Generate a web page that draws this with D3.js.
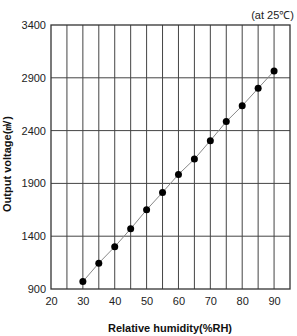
<!DOCTYPE html>
<html><head><meta charset="utf-8">
<script src="https://cdn.jsdelivr.net/npm/d3@7"></script>
<style>body{margin:0;background:#fff}</style>
</head><body>
<script>
const humidity = [30,35,40,45,50,55,60,65,70,75,80,85,90];
const voltage = [970,1145,1300,1470,1650,1815,1985,2130,2305,2485,2635,2800,2965];
const xTicks = [20,30,40,50,60,70,80,90];
const yTicks = [900,1400,1900,2400,2900,3400];
const xGrid = [25,30,35,40,45,50,55,60,65,70,75,80,85,90];

const W=297,H=336;
const m={l:51,r:7,t:25,b:47};
const svg=d3.select("body").append("svg").attr("width",W).attr("height",H);
const x=d3.scaleLinear().domain([20,95]).range([m.l,W-m.r]);
const y=d3.scaleLinear().domain([900,3400]).range([H-m.b,m.t]);
const font="Arial, 'Liberation Sans', sans-serif";

svg.append("g").selectAll("line").data(xGrid).join("line")
 .attr("x1",d=>x(d)).attr("x2",d=>x(d)).attr("y1",y(900)).attr("y2",y(3400))
 .attr("stroke","#444").attr("stroke-width",1);
svg.append("g").selectAll("line").data(yTicks.slice(1,-1)).join("line")
 .attr("x1",x(20)).attr("x2",x(95)).attr("y1",d=>y(d)).attr("y2",d=>y(d))
 .attr("stroke","#444").attr("stroke-width",1);
svg.append("rect").attr("x",x(20)).attr("y",y(3400)).attr("width",x(95)-x(20)).attr("height",y(900)-y(3400))
 .attr("fill","none").attr("stroke","#333").attr("stroke-width",1.3);

const yAxis=svg.append("g").attr("transform",`translate(${x(20)},0)`)
 .call(d3.axisLeft(y).tickValues(yTicks).tickFormat(d3.format("d")).tickSize(0).tickPadding(5));
yAxis.select(".domain").remove();
yAxis.selectAll("text").attr("font-family",font).attr("font-size",11).attr("fill","#222");

const xAxis=svg.append("g").attr("transform",`translate(0,${y(900)})`)
 .call(d3.axisBottom(x).tickValues(xTicks).tickFormat(d3.format("d")).tickSize(0).tickPadding(8));
xAxis.select(".domain").remove();
xAxis.selectAll("text").attr("font-family",font).attr("font-size",11).attr("fill","#222");

const line=d3.line().x((d,i)=>x(humidity[i])).y(d=>y(d));
svg.append("path").datum(voltage).attr("d",line).attr("fill","none").attr("stroke","#888").attr("stroke-width",1);
svg.append("g").selectAll("circle").data(voltage).join("circle")
 .attr("cx",(d,i)=>x(humidity[i])).attr("cy",d=>y(d)).attr("r",3.5).attr("fill","#000");

svg.append("text").attr("x",170).attr("y",332).attr("text-anchor","middle")
 .attr("font-family",font).attr("font-size",11).attr("font-weight","bold").attr("fill","#111")
 .text("Relative humidity(%RH)");
svg.append("text").attr("transform","translate(11,164) rotate(-90)").attr("text-anchor","middle")
 .attr("font-family",font).attr("font-size",11).attr("font-weight","bold").attr("fill","#111")
 .text("Output voltage(㎷)");
svg.append("text").attr("x",294).attr("y",19).attr("text-anchor","end")
 .attr("font-family",font).attr("font-size",11).attr("fill","#222")
 .text("(at 25℃)");
</script>
</body></html>
